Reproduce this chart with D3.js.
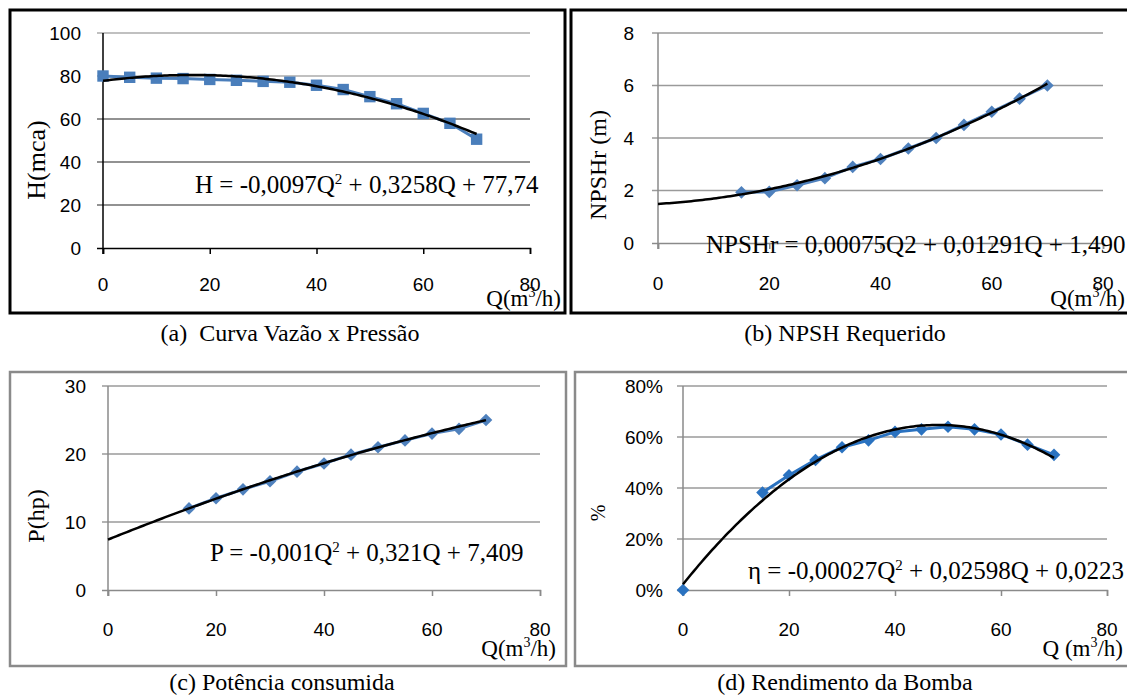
<!DOCTYPE html>
<html>
<head>
<meta charset="utf-8">
<script src="https://cdn.jsdelivr.net/npm/d3@7"></script>
<style>
  body { margin: 0; background: #fff; }
  svg { display: block; }
  .tick-label { font-family: "Liberation Sans", Arial, sans-serif; font-size: 19px; fill: #000; }
  .serif { font-family: "Liberation Serif", "Times New Roman", serif; fill: #000; }
</style>
</head>
<body>
<div id="graphicContainer"></div>
<script>
// ---- data ----
var qAxisTicks = [0, 20, 40, 60, 80]

// (a) Curva Vazao x Pressao
var qHead = [0, 5, 10, 15, 20, 25, 30, 35, 40, 45, 50, 55, 60, 65, 70]
var headValues = [80, 79.4, 79, 78.8, 78.4, 78, 77.5, 77.1, 75.7, 73.7, 70.4, 67.1, 62.6, 58, 50.6]
var headTicks = [0, 20, 40, 60, 80, 100]
var headCoef = [77.74, 0.3258, -0.0097]

// (b) NPSH requerido
var qNpsh = [15, 20, 25, 30, 35, 40, 45, 50, 55, 60, 65, 70]
var npshValues = [1.93, 1.95, 2.2, 2.47, 2.9, 3.2, 3.6, 4.0, 4.5, 5.0, 5.5, 6.0]
var npshTicks = [0, 2, 4, 6, 8]
var npshCoef = [1.490, 0.01291, 0.00075]

// (c) Potencia consumida
var qPower = [15, 20, 25, 30, 35, 40, 45, 50, 55, 60, 65, 70]
var powerValues = [12, 13.5, 14.8, 16, 17.4, 18.6, 19.9, 21, 22, 23, 23.7, 25]
var powerTicks = [0, 10, 20, 30]
var powerCoef = [7.409, 0.321, -0.001]

// (d) Rendimento da bomba
var qEff = [0, 15, 20, 25, 30, 35, 40, 45, 50, 55, 60, 65, 70]
var effValues = [0, 0.382, 0.45, 0.51, 0.56, 0.587, 0.62, 0.63, 0.64, 0.63, 0.61, 0.57, 0.53]
var effTicks = [0, 0.2, 0.4, 0.6, 0.8]
var effCoef = [0.0223, 0.02598, -0.00027]

var width = 1127, height = 698

var svg = d3.select("#graphicContainer").append("svg")
	.attr("width", width)
	.attr("height", height)

var gray = "#8a8a8a"

function drawPanel(p) {
	var g = svg.append("g")

	g.append("rect")
		.attr("x", p.frame[0]).attr("y", p.frame[1])
		.attr("width", p.frame[2]).attr("height", p.frame[3])
		.attr("fill", "none")
		.attr("stroke", p.frameColor)
		.attr("stroke-width", p.frameWidth)

	var x = d3.scaleLinear().domain([0, 80]).range(p.xRange)
	var y = d3.scaleLinear().domain(d3.extent(p.yTicks)).range(p.yRange)

	// horizontal gridlines
	g.selectAll(".grid").data(p.yTicks.filter(d => d > 0)).join("line")
		.attr("x1", p.xRange[0] - 6).attr("x2", p.xRange[1])
		.attr("y1", d => y(d)).attr("y2", d => y(d))
		.attr("stroke", (d, i) => p.gridColors ? p.gridColors[i] : "#9a9a9a")
		.attr("stroke-width", 1.3)

	// axes
	var axisX = d3.axisBottom(x).tickValues(qAxisTicks).tickSize(6).tickFormat("")
	var axisY = d3.axisLeft(y).tickValues([0]).tickSize(6).tickFormat("")
	g.append("g").attr("transform", `translate(0,${p.yRange[0]})`).call(axisX)
		.call(a => a.selectAll("path,line").attr("stroke", p.axisColor).attr("stroke-width", 1.5))
	g.append("g").attr("transform", `translate(${p.xRange[0]},0)`).call(axisY)
		.call(a => a.select(".domain").attr("d", `M0,${p.yRange[0] + 6}V${p.yRange[1]}`))
		.call(a => a.selectAll("path,line").attr("stroke", p.axisColor).attr("stroke-width", 1.5))

	// tick labels
	g.selectAll(".ylab").data(p.yTicks).join("text")
		.attr("class", "tick-label")
		.attr("x", p.xRange[0] - p.yLabelGap)
		.attr("y", d => y(d))
		.attr("dy", "0.36em")
		.attr("text-anchor", "end")
		.text(p.yFormat)
	g.selectAll(".xlab").data(qAxisTicks).join("text")
		.attr("class", "tick-label")
		.attr("x", d => x(d))
		.attr("y", p.yRange[0] + p.xLabelGap)
		.attr("dy", "0.36em")
		.attr("text-anchor", "middle")
		.text(d => d)

	// axis titles
	g.append("text")
		.attr("class", "serif")
		.attr("transform", `translate(${p.yTitlePos[0]},${p.yTitlePos[1]}) rotate(-90)`)
		.attr("text-anchor", "middle")
		.attr("dy", "0.35em")
		.style("font-size", p.yTitleSize + "px")
		.text(p.yTitle)

	var qt = g.append("text")
		.attr("class", "serif")
		.attr("x", p.qTitlePos[0]).attr("y", p.qTitlePos[1])
		.attr("text-anchor", "end")
		.style("font-size", "23px")
	qt.append("tspan").text(p.qTitle)
	qt.append("tspan").attr("dy", -9).style("font-size", "14px").text("3")
	qt.append("tspan").attr("dy", 9).text("/h)")

	// data series (a lone first point is not joined when the next Q is far off)
	var pts = p.q.map((q, i) => ({q: q, v: p.values[i]}))
	var line = d3.line().x(d => x(d.q)).y(d => y(d.v))
	var joined = pts.filter((d, i) => i > 0 || pts[1].q - d.q <= 5)
	g.append("path").datum(joined)
		.attr("fill", "none")
		.attr("stroke", p.color)
		.attr("stroke-width", 3)
		.attr("d", line)

	var sym = d3.symbol().type(d3.symbolSquare).size(p.markerSize)
	g.selectAll(".pt").data(pts).join("path")
		.attr("transform", d => `translate(${x(d.q)},${y(d.v)})` + (p.diamond ? " rotate(45)" : ""))
		.attr("d", sym)
		.attr("fill", p.color)

	// polynomial trendline from the coefficients printed on the chart
	var qs = d3.range(0, 70.01, 0.5)
	var trend = qs.map(q => ({q: q, v: p.coef[0] + p.coef[1] * q + p.coef[2] * q * q}))
	g.append("path").datum(trend)
		.attr("fill", "none")
		.attr("stroke", "#000")
		.attr("stroke-width", 2.5)
		.attr("d", line)

	// equation
	var eq = g.append("text")
		.attr("class", "serif")
		.attr("x", p.eqPos[0]).attr("y", p.eqPos[1])
		.style("font-size", "25px")
	eq.append("tspan").text(p.eq[0])
	if (p.eq.length > 1) {
		eq.append("tspan").attr("dy", -9).style("font-size", "15px").text(p.eq[1])
		eq.append("tspan").attr("dy", 9).text(p.eq[2])
	}

	// caption
	svg.append("text")
		.attr("class", "serif")
		.attr("x", p.caption[0]).attr("y", p.caption[1])
		.attr("text-anchor", "middle")
		.style("font-size", "24px")
		.style("white-space", "pre")
		.text(p.caption[2])
}

drawPanel({
	frame: [10, 10, 555, 303], frameColor: "#000", frameWidth: 3, axisColor: "#000",
	xRange: [103, 530], yRange: [248, 33], yTicks: headTicks, yFormat: d => d,
	gridColors: ["#6e6e6e", "#6e6e6e", "#6e6e6e", "#ababab", "#ababab"],
	yLabelGap: 22, xLabelGap: 36,
	yTitle: "H(mca)", yTitlePos: [36, 160], yTitleSize: 26,
	qTitle: "Q(m", qTitlePos: [561, 306],
	q: qHead, values: headValues, color: "#4a7ebb", diamond: false, markerSize: 130,
	coef: headCoef,
	eq: ["H = -0,0097Q", "2", " + 0,3258Q + 77,74"], eqPos: [195, 193],
	caption: [290, 341, "(a)  Curva Vazão x Pressão"]
})

drawPanel({
	frame: [571, 10, 570, 303], frameColor: "#000", frameWidth: 3, axisColor: gray,
	xRange: [658, 1103], yRange: [243, 33], yTicks: npshTicks, yFormat: d => d,
	yLabelGap: 24, xLabelGap: 40,
	yTitle: "NPSHr (m)", yTitlePos: [598, 165], yTitleSize: 24,
	qTitle: "Q(m", qTitlePos: [1125, 306],
	q: qNpsh, values: npshValues, color: "#4f81bd", diamond: true, markerSize: 80,
	coef: npshCoef,
	eq: ["NPSHr = 0,00075Q2 + 0,01291Q + 1,490"], eqPos: [706, 253],
	caption: [845, 341, "(b) NPSH Requerido"]
})

drawPanel({
	frame: [10, 372, 556, 294], frameColor: gray, frameWidth: 2.5, axisColor: gray,
	xRange: [108, 540], yRange: [590, 386], yTicks: powerTicks, yFormat: d => d,
	yLabelGap: 22, xLabelGap: 39,
	yTitle: "P(hp)", yTitlePos: [36, 516], yTitleSize: 24,
	qTitle: "Q(m", qTitlePos: [556, 656],
	q: qPower, values: powerValues, color: "#4f81bd", diamond: true, markerSize: 80,
	coef: powerCoef,
	eq: ["P = -0,001Q", "2", " + 0,321Q + 7,409"], eqPos: [210, 561],
	caption: [282, 690, "(c) Potência consumida"]
})

drawPanel({
	frame: [575, 372, 570, 294], frameColor: gray, frameWidth: 2.5, axisColor: gray,
	xRange: [683, 1107], yRange: [590, 386], yTicks: effTicks, yFormat: d3.format(".0%"),
	yLabelGap: 20, xLabelGap: 39,
	yTitle: "%", yTitlePos: [598, 513], yTitleSize: 20,
	qTitle: "Q (m", qTitlePos: [1123, 656],
	q: qEff, values: effValues, color: "#2a72c0", diamond: true, markerSize: 80,
	coef: effCoef,
	eq: ["η = -0,00027Q", "2", " + 0,02598Q + 0,0223"], eqPos: [748, 579],
	caption: [845, 690, "(d) Rendimento da Bomba"]
})
</script>
</body>
</html>
